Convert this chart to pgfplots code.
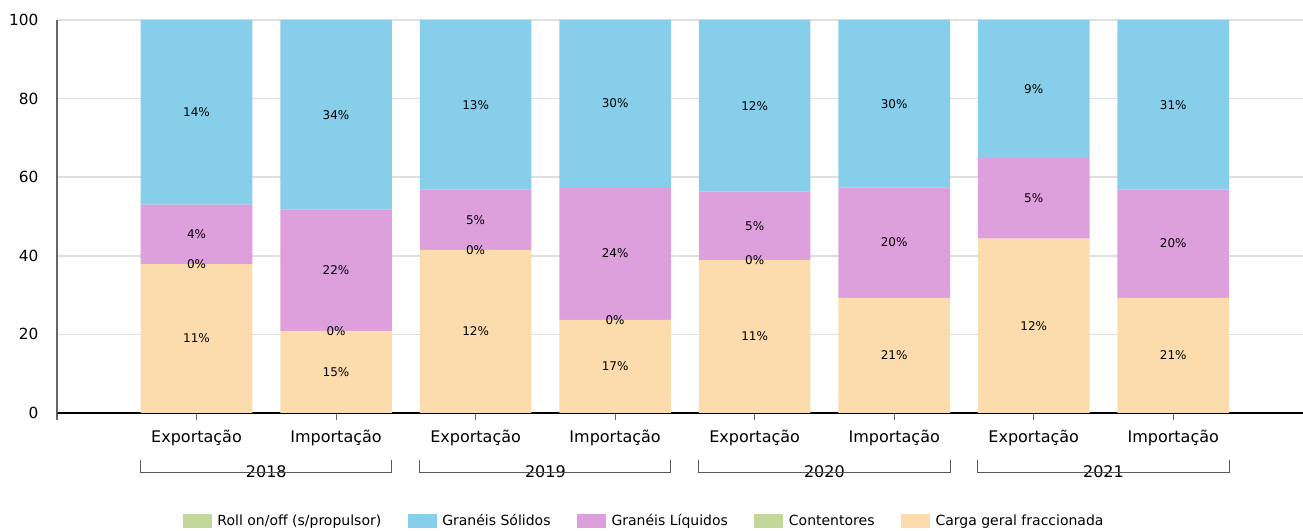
\documentclass[border=0pt]{standalone}
\usepackage{fontspec}
\setmainfont{DejaVu Sans}
\usepackage{pgfplots}
\pgfplotsset{compat=1.18}
\definecolor{cSol}{HTML}{87CEEB}
\definecolor{cLiq}{HTML}{DDA0DD}
\definecolor{cCar}{HTML}{FCDCAC}
\definecolor{cGrn}{HTML}{C4D79B}
\pgfplotstableread{
x cargo cont liq sol roll
1 37.9 0 15.1 47.0 0
2 20.9 0 30.9 48.2 0
3 41.5 0 15.4 43.1 0
4 23.7 0 33.8 42.5 0
5 38.9 0 17.5 43.6 0
6 29.3 0 28.1 42.6 0
7 44.4 0 20.5 35.1 0
8 29.3 0 27.6 43.1 0
}\datatable
\begin{document}
\begin{tikzpicture}
\useasboundingbox (-42.75pt,-88.5pt) rectangle (934.5pt,309.75pt);
\begin{axis}[
  at={(0,0)}, anchor=south west, scale only axis,
  width=934.5pt, height=294.75pt,
  xmin=0, xmax=8.93, ymin=0, ymax=100, enlargelimits=false,
  ybar stacked, bar width=0.8,
  axis lines*=left,
  axis line style={-},
  x axis line style={black, line width=2.2pt},
  y axis line style={gray!80!black, line width=0.8pt},
  ymajorgrids, grid style={draw=gray!25, line width=1.1pt},
  ytick={0,20,40,60,80,100},
  xtick={0,1,2,3,4,5,6,7,8},
  xticklabels={,Exportação,Importação,Exportação,Importação,Exportação,Importação,Exportação,Importação},
  tick align=outside, major tick length=5pt,
  xtick style={draw=gray!80!black, line width=0.8pt},
  ytick style={draw=none},
  xticklabel style={font=\fontsize{12}{14}\selectfont, yshift=-4.25pt},
  yticklabel style={font=\fontsize{11.5}{14}\selectfont, xshift=-5.5pt},
  /pgf/number format/assume math mode=true,
  clip=false,
  reverse legend,
  legend columns=-1,
  legend image code/.code={\fill[#1] (0pt,-5.4pt) rectangle (21.75pt,5.4pt);},
  legend style={at={(0.4715,-0.2748)}, anchor=center, draw=none, fill=none,
    font=\fontsize{10.5}{13}\selectfont,
    /tikz/every odd column/.append style={column sep=2.25pt},
    /tikz/every even column/.append style={column sep=17.75pt}},
]
\addplot[fill=cCar, draw=none] table[x=x, y=cargo] {\datatable};
\addlegendentry{Carga geral fraccionada}
\addplot[fill=cGrn, draw=none] table[x=x, y=cont] {\datatable};
\addlegendentry{Contentores}
\addplot[fill=cLiq, draw=none] table[x=x, y=liq] {\datatable};
\addlegendentry{Granéis Líquidos}
\addplot[fill=cSol, draw=none] table[x=x, y=sol] {\datatable};
\addlegendentry{Granéis Sólidos}
\addplot[fill=cGrn, draw=none] table[x=x, y=roll] {\datatable};
\addlegendentry{Roll on/off (s/propulsor)}

\draw[gray!70!black, line width=0.75pt] ([yshift=-35.25pt]axis cs:0.6,0) -- ([yshift=-45pt]axis cs:0.6,0) -- ([yshift=-45pt]axis cs:2.4,0) -- ([yshift=-35.25pt]axis cs:2.4,0);
\draw[gray!70!black, line width=0.75pt] ([yshift=-35.25pt]axis cs:2.6,0) -- ([yshift=-45pt]axis cs:2.6,0) -- ([yshift=-45pt]axis cs:4.4,0) -- ([yshift=-35.25pt]axis cs:4.4,0);
\draw[gray!70!black, line width=0.75pt] ([yshift=-35.25pt]axis cs:4.6,0) -- ([yshift=-45pt]axis cs:4.6,0) -- ([yshift=-45pt]axis cs:6.4,0) -- ([yshift=-35.25pt]axis cs:6.4,0);
\draw[gray!70!black, line width=0.75pt] ([yshift=-35.25pt]axis cs:6.6,0) -- ([yshift=-45pt]axis cs:6.6,0) -- ([yshift=-45pt]axis cs:8.4,0) -- ([yshift=-35.25pt]axis cs:8.4,0);
\node[fill=white, inner sep=2pt, font=\fontsize{12}{14}\selectfont] at ([yshift=-44.25pt]axis cs:1.5,0) {2018};
\node[fill=white, inner sep=2pt, font=\fontsize{12}{14}\selectfont] at ([yshift=-44.25pt]axis cs:3.5,0) {2019};
\node[fill=white, inner sep=2pt, font=\fontsize{12}{14}\selectfont] at ([yshift=-44.25pt]axis cs:5.5,0) {2020};
\node[fill=white, inner sep=2pt, font=\fontsize{12}{14}\selectfont] at ([yshift=-44.25pt]axis cs:7.5,0) {2021};
\end{axis}
\begin{axis}[
  at={(0,0)}, anchor=south west, scale only axis,
  width=934.5pt, height=294.75pt,
  xmin=0, xmax=8.93, ymin=0, ymax=100, enlargelimits=false,
  hide axis, clip=false,
]
\addplot[only marks, mark=*, mark size=0pt, draw=none, fill=none,
  nodes near coords, point meta=explicit symbolic,
  every node near coord/.append style={anchor=center, font=\fontsize{9}{10}\selectfont, text=black}]
coordinates {
(1,18.95)[11\%] (1,37.9)[0\%] (1,45.45)[4\%] (1,76.5)[14\%]
(2,10.45)[15\%] (2,20.9)[0\%] (2,36.35)[22\%] (2,75.9)[34\%]
(3,20.75)[12\%] (3,41.5)[0\%] (3,49.2)[5\%] (3,78.45)[13\%]
(4,11.85)[17\%] (4,23.7)[0\%] (4,40.6)[24\%] (4,78.75)[30\%]
(5,19.45)[11\%] (5,38.9)[0\%] (5,47.65)[5\%] (5,78.2)[12\%]
(6,14.65)[21\%] (6,43.35)[20\%] (6,78.7)[30\%]
(7,22.2)[12\%] (7,54.65)[5\%] (7,82.45)[9\%]
(8,14.65)[21\%] (8,43.1)[20\%] (8,78.45)[31\%]
};
\end{axis}
\end{tikzpicture}
\end{document}
